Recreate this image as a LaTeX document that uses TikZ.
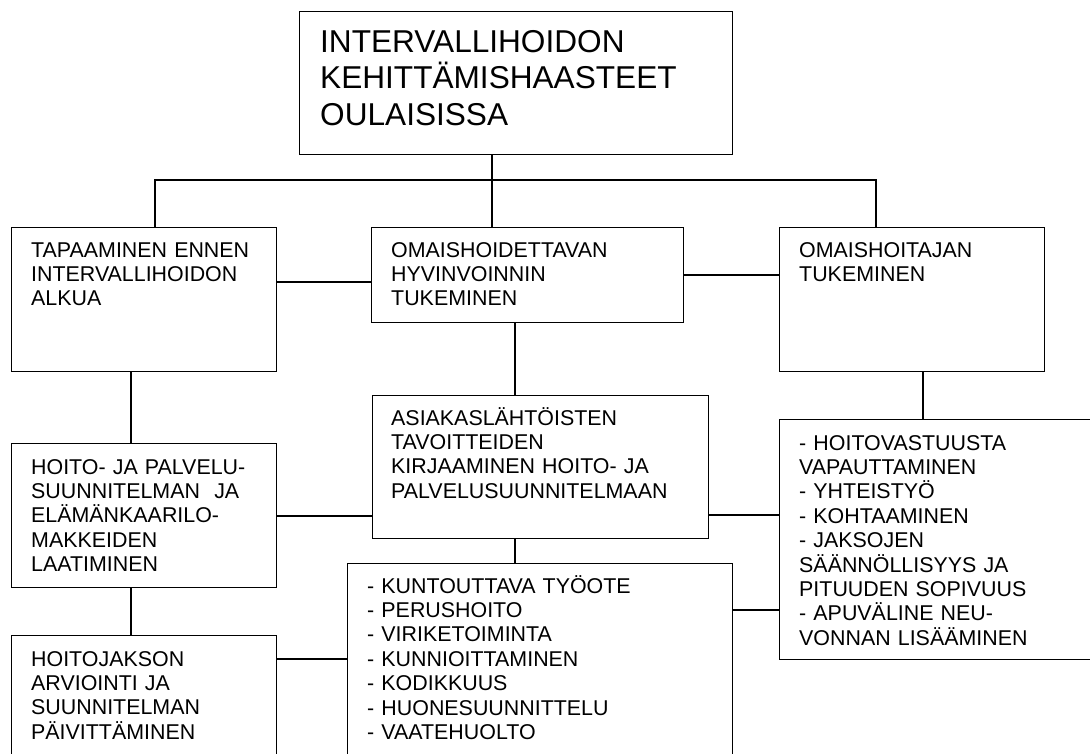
\documentclass[tikz,border=0pt]{standalone}
\usepackage{fontspec}
\setmainfont{Liberation Sans}
\usetikzlibrary{calc}
\begin{document}
\begin{tikzpicture}[x=1pt,y=-1pt,
  boxnode/.style={draw=black, line width=1.3pt, rectangle, inner sep=0pt, anchor=north west},
  conn/.style={draw=black, line width=1.3pt},
  txt/.style={anchor=base west, inner sep=0pt, align=left, text=black,
    font=\fontsize{21.4pt}{24.4pt}\selectfont},
  bigtxt/.style={anchor=base west, inner sep=0pt, align=left, text=black,
    font=\fontsize{31.6pt}{36.8pt}\selectfont}]
\useasboundingbox (0,0) rectangle (1090,753);
\clip (0,0) rectangle (1090,753);
\fill[white] (0,0) rectangle (1090,753);

% boxes
\node[boxnode, minimum width=433pt, minimum height=143pt] (T) at (299,11) {};
\node[boxnode, minimum width=265pt, minimum height=144pt] (A) at (11,227) {};
\node[boxnode, minimum width=312pt, minimum height=95pt]  (B) at (371,227) {};
\node[boxnode, minimum width=265pt, minimum height=144pt] (C) at (779,227) {};
\node[boxnode, minimum width=265pt, minimum height=144pt] (D) at (11,443) {};
\node[boxnode, minimum width=336pt, minimum height=143pt] (E) at (372,395) {};
\node[boxnode, minimum width=385pt, minimum height=217pt] (F) at (347,563) {};
\node[boxnode, minimum width=265pt, minimum height=145pt] (G) at (11,635) {};
\node[boxnode, minimum width=331pt, minimum height=240pt] (H) at (779,419) {};

% texts
\node[bigtxt, text width=403pt] (Tt) at ($(T.north west)+(21,41)$)
  {INTERVALLIHOIDON\\KEHITTÄMISHAASTEET\\OULAISISSA};
\node[txt, text width=240pt] (At) at ($(A.north west)+(20,30)$)
  {TAPAAMINEN ENNEN\\INTERVALLIHOIDON\\ALKUA};
\node[txt, text width=282pt] (Bt) at ($(B.north west)+(20,30)$)
  {OMAISHOIDETTAVAN\\HYVINVOINNIN\\TUKEMINEN};
\node[txt, text width=240pt] (Ct) at ($(C.north west)+(20,30)$)
  {OMAISHOITAJAN\\TUKEMINEN};
\node[txt, text width=240pt] (Dt) at ($(D.north west)+(20,31)$)
  {HOITO- JA PALVELU-\\SUUNNITELMAN\ \ JA\\ELÄMÄNKAARILO-\\MAKKEIDEN\\LAATIMINEN};
\node[txt, text width=306pt] (Et) at ($(E.north west)+(19,30)$)
  {ASIAKASLÄHTÖISTEN\\TAVOITTEIDEN\\KIRJAAMINEN HOITO- JA\\PALVELUSUUNNITELMAAN};
\node[txt, text width=355pt] (Ft) at ($(F.north west)+(20,30)$)
  {- KUNTOUTTAVA TYÖOTE\\- PERUSHOITO\\- VIRIKETOIMINTA\\- KUNNIOITTAMINEN\\- KODIKKUUS\\- HUONESUUNNITTELU\\- VAATEHUOLTO};
\node[txt, text width=240pt] (Gt) at ($(G.north west)+(20,31)$)
  {HOITOJAKSON\\ARVIOINTI JA\\SUUNNITELMAN\\PÄIVITTÄMINEN};
\node[txt, text width=280pt] (Ht) at ($(H.north west)+(20,31)$)
  {- HOITOVASTUUSTA\\VAPAUTTAMINEN\\- YHTEISTYÖ\\- KOHTAAMINEN\\- JAKSOJEN\\SÄÄNNÖLLISYYS JA\\PITUUDEN SOPIVUUS\\- APUVÄLINE NEU-\\VONNAN LISÄÄMINEN};

% helper coordinates
\coordinate (xl) at (155,180);
\coordinate (xm) at (492,180);
\coordinate (xr) at (876,180);
\coordinate (xa) at (131,0);
\coordinate (xe) at (515,0);
\coordinate (xc) at (923,0);
\coordinate (yab) at (0,282);
\coordinate (ybc) at (0,275);
\coordinate (yde) at (0,516);
\coordinate (yeh) at (0,515);
\coordinate (yfh) at (0,610);
\coordinate (ygf) at (0,659);

% connectors
\draw[conn] (T.south -| xm) -- (B.north -| xm);
\draw[conn] (A.north -| xl) -- (xl) -- (xr) -- (C.north -| xr);
\draw[conn] (A.south -| xa) -- (D.north -| xa);
\draw[conn] (D.south -| xa) -- (G.north -| xa);
\draw[conn] (A.east |- yab) -- (B.west |- yab);
\draw[conn] (B.east |- ybc) -- (C.west |- ybc);
\draw[conn] (B.south -| xe) -- (E.north -| xe);
\draw[conn] (E.south -| xe) -- (F.north -| xe);
\draw[conn] (C.south -| xc) -- (H.north -| xc);
\draw[conn] (D.east |- yde) -- (E.west |- yde);
\draw[conn] (E.east |- yeh) -- (H.west |- yeh);
\draw[conn] (F.east |- yfh) -- (H.west |- yfh);
\draw[conn] (G.east |- ygf) -- (F.west |- ygf);
\end{tikzpicture}
\end{document}
